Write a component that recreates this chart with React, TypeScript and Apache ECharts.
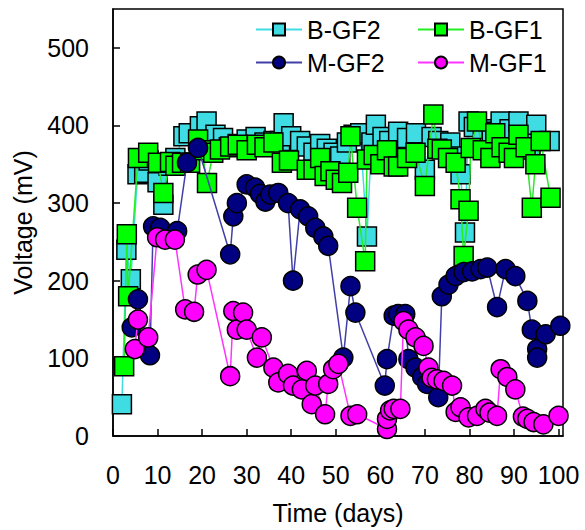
import React, { useEffect, useRef } from "react";
import * as echarts from "echarts";

const seriesNames = ["B-GF2", "B-GF1", "M-GF2", "M-GF1"];
const yTickValues = [0, 100, 200, 300, 400, 500];
const xTickValues = [0, 10, 20, 30, 40, 50, 60, 70, 80, 90, 100];

// [day, voltage mV]
const bGF2: [number, number][] = [
  [2, 41], [3, 240], [4, 202], [5.5, 337], [7, 339], [8, 355], [10, 327], [11.3, 298],
  [12.5, 348], [14, 358], [15.8, 386], [17, 390], [19.5, 399], [21, 405], [23, 388],
  [24.7, 384], [26, 372], [28, 376], [30, 382], [32, 385], [34, 378], [36, 380],
  [37.5, 380], [38.3, 403], [40, 386], [42, 380], [43.5, 373], [45, 365], [46.5, 376],
  [48, 370], [49.5, 365], [51, 360], [52.5, 378], [54, 388], [55.5, 390], [57, 257],
  [58, 378], [59, 401], [60.5, 385], [62, 380], [64, 392], [66, 384], [68, 390],
  [70, 343], [71.5, 385], [73, 380], [75.7, 378], [77, 360], [78, 337], [79, 262],
  [79.8, 405], [81, 398], [83, 395], [85, 392], [87, 405], [89, 395], [91, 405],
  [92.5, 380], [93.7, 369], [95, 401], [98, 380],
];

const bGF1: [number, number][] = [
  [2.5, 90], [3.1, 260], [3.4, 180], [5.6, 358], [7.9, 365], [10.1, 352], [11.3, 313],
  [12.8, 353], [14, 348], [15.5, 352], [17.3, 352], [19.1, 382], [20, 368], [21.1, 326],
  [22.5, 365], [24, 369], [26.3, 373], [28, 375], [30, 368], [32.3, 375], [34, 372],
  [36, 378], [37.9, 352], [39.5, 355], [43.5, 343], [45, 343], [46.5, 358], [47.5, 335],
  [48.8, 341], [50, 330], [51.4, 326], [52.8, 339], [53.3, 386], [54.8, 294], [56.6, 225],
  [57, 356], [58.5, 362], [60, 350], [61.5, 368], [63, 347], [64, 347], [66, 358],
  [67.9, 365], [70, 322], [71.9, 414], [72.8, 370], [73.8, 369], [75.2, 358], [76.9, 352],
  [78, 305], [78.7, 232], [79.8, 290], [80.3, 371], [81.7, 405], [83, 368], [84.7, 358],
  [85.8, 390], [87.2, 372], [88.8, 365], [90, 358], [91, 388], [92.6, 372], [94, 294],
  [94.8, 350], [96, 380], [98.2, 307],
];

const mGF2: [number, number][] = [
  [4.2, 140], [5.6, 176], [8.3, 104], [9, 270], [10.6, 268], [14.4, 264], [16.6, 352],
  [19.1, 371], [26.3, 234], [27, 283], [27.8, 300], [30, 324], [31.9, 320], [33, 312],
  [34.2, 302], [35.3, 311], [37.1, 313], [39.3, 300], [40.4, 200], [42, 292], [43.8, 283],
  [45.4, 268], [47.2, 257], [48.3, 245], [51.7, 101], [53.3, 193], [54.4, 159], [61, 65],
  [61.5, 99], [63, 155], [64, 157], [65.6, 157], [66.3, 99], [67.9, 88], [69.4, 76],
  [70.5, 67], [73, 50], [73.8, 180], [75.3, 195], [76.9, 206], [78.7, 211], [80.6, 212],
  [82.5, 215], [84, 217], [86.2, 166], [88.1, 215], [90.3, 206], [93, 174], [94, 137],
  [95.2, 112], [95.2, 101], [97.1, 131], [100.4, 142],
];

const mGF1: [number, number][] = [
  [4.9, 112], [5.6, 150], [7.9, 127], [9.9, 256], [11.7, 253], [13.9, 253], [16.2, 163],
  [18.2, 160], [19, 208], [21, 214], [26.3, 77], [27, 161], [27.8, 137], [29.2, 159],
  [30, 137], [32.3, 101], [33.4, 127], [36, 88], [37.1, 69], [39.3, 80], [40.4, 65],
  [42.4, 60], [43.5, 84], [44.6, 41], [45.4, 65], [47.6, 28], [48.3, 67], [49.4, 86],
  [50.6, 93], [53.3, 26], [54.8, 28], [61.5, 9], [61.5, 22], [62.2, 33], [63, 35],
  [64.5, 35], [65.2, 148], [66.3, 137], [67.9, 127], [69.7, 116], [70.8, 88], [71.5, 75],
  [72.7, 73], [74.2, 71], [76.1, 65], [76.9, 31], [78, 37], [79.8, 24], [81.7, 26],
  [83.6, 35], [84.5, 30], [86.2, 26], [87, 86], [88.5, 76], [90.3, 60], [92, 25],
  [93, 22], [94.4, 18], [96.6, 15], [100, 26],
];

const FONT = "'Liberation Sans', Arial, sans-serif";

export default function App() {
  const ref = useRef<HTMLDivElement>(null);
  useEffect(() => {
    if (!ref.current) return;
    const chart = echarts.init(ref.current, undefined, { renderer: "svg" });
    const datasets = [bGF2, bGF1, mGF2, mGF1];
    const fills = ["#3fdde3", "#00ff00", "#000080", "#ff00ff"];
    const lines = ["#3fdde3", "#22ee22", "#4040a8", "#ff33ff"];
    const symbols = ["rect", "rect", "circle", "circle"];
    const sizes = [19, 19, 19, 19];
    const legendPos = [
      { left: 255, top: 17 },
      { left: 417, top: 17 },
      { left: 255, top: 50 },
      { left: 417, top: 50 },
    ];
    chart.setOption({
      animation: false,
      grid: {
        left: 113,
        right: 22,
        top: 9,
        bottom: 93,
        show: true,
        borderColor: "#000",
        borderWidth: 1.5,
      },
      legend: seriesNames.map((n, i) => ({
        data: [n],
        left: legendPos[i].left,
        top: legendPos[i].top,
        padding: 0,
        itemWidth: 46,
        itemHeight: 15,
        textStyle: { fontSize: 25, color: "#000", fontFamily: FONT },
      })),
      xAxis: {
        type: "value",
        min: 0,
        max: 101,
        interval: 10,
        name: "Time (days)",
        nameLocation: "middle",
        nameGap: 64,
        nameTextStyle: { fontSize: 25, color: "#000", fontFamily: FONT },
        axisLine: { show: true, lineStyle: { color: "#000", width: 1.5 } },
        axisTick: { show: true, inside: true, length: 7, lineStyle: { color: "#000", width: 1.5 } },
        axisLabel: {
          fontSize: 25,
          color: "#000",
          fontFamily: FONT,
          margin: 26,
          showMaxLabel: false,
          formatter: (v: number) => (xTickValues.includes(v) ? String(v) : ""),
        },
        splitLine: { show: false },
      },
      yAxis: {
        type: "value",
        min: 0,
        max: 550,
        interval: 100,
        name: "Voltage (mV)",
        nameLocation: "middle",
        nameGap: 78,
        nameTextStyle: { fontSize: 25, color: "#000", fontFamily: FONT },
        axisLine: { show: true, lineStyle: { color: "#000", width: 1.5 } },
        axisTick: { show: true, inside: true, length: 7, lineStyle: { color: "#000", width: 1.5 } },
        axisLabel: {
          fontSize: 25,
          color: "#000",
          fontFamily: FONT,
          margin: 24,
          showMaxLabel: false,
          formatter: (v: number) => (yTickValues.includes(v) ? String(v) : ""),
        },
        splitLine: { show: false },
      },
      series: seriesNames.map((n, i) => ({
        name: n,
        type: "line",
        data: datasets[i],
        symbol: symbols[i],
        symbolSize: sizes[i],
        showAllSymbol: true,
        z: 2 + i,
        itemStyle: { color: fills[i], borderColor: "#000", borderWidth: 1.5 },
        lineStyle: { color: lines[i], width: 1.5 },
        emphasis: { disabled: true },
      })),
    });
    return () => chart.dispose();
  }, []);
  return (
    <div
      ref={ref}
      style={{ position: "absolute", left: 0, top: 0, width: 585, height: 530, background: "#fff" }}
    />
  );
}
